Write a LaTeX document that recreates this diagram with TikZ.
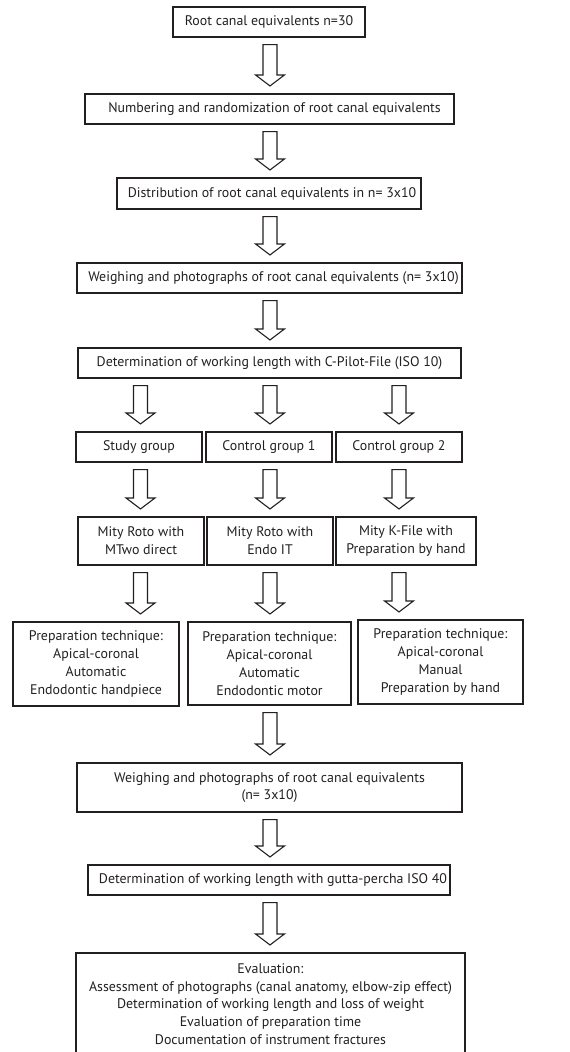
\documentclass[tikz,border=0pt]{standalone}
\usepackage{fontspec}
\setmainfont{PT Sans}
\usetikzlibrary{calc}
\definecolor{ink}{HTML}{231F20}
\tikzset{
  box/.style={draw=ink, line width=1.1pt, align=center, inner sep=0pt, text=ink,
    font=\fontsize{13.9}{17.8}\selectfont},
  blockarr/.style={draw=ink, line width=1.1pt, fill=white, line join=miter},
}
\newcommand\blkarrow[3]{%
  \draw[blockarr] let \p0=(#1), \p1=(#2.south), \p2=(#3.north) in
   (\x0-7pt,\y1-7pt) -- (\x0+7pt,\y1-7pt) -- (\x0+7pt,\y2+18.5pt)
   -- (\x0+14.5pt,\y2+18.5pt) -- (\x0,\y2+7.5pt) -- (\x0-14.5pt,\y2+18.5pt)
   -- (\x0-7pt,\y2+18.5pt) -- cycle;}
\begin{document}
\begin{tikzpicture}[x=1pt,y=-1pt]
\useasboundingbox (0,0) rectangle (570,1052);
\clip (0,0) rectangle (570,1052);
\coordinate (colL) at (140.5,0);
\coordinate (colM) at (270,0);
\coordinate (colR) at (399,0);

\node[box, minimum width=192pt, minimum height=30pt] (b1) at (269,22) {Root canal equivalents n=30};
\node[box, minimum width=369pt, minimum height=30pt] (b2) at (269.5,109) {\hspace*{10pt}Numbering and randomization of root canal equivalents};
\node[box, minimum width=304pt, minimum height=31pt] (b3) at (269,193.5) {\hspace*{6pt}Distribution of root canal equivalents in n= 3x10};
\node[box, minimum width=385pt, minimum height=30pt] (b4) at (269.5,278) {\hspace*{8pt}Weighing and photographs of root canal equivalents (n= 3x10)};
\node[box, minimum width=383pt, minimum height=30pt] (b5) at (269.5,363) {Determination of working length with C-Pilot-File (ISO 10)};

\node[box, minimum width=126pt, minimum height=30pt] (g1) at (139,447) {Study group};
\node[box, minimum width=126pt, minimum height=30pt] (g2) at (269,447) {Control group 1};
\node[box, minimum width=126pt, minimum height=30pt] (g3) at (399,447) {Control group 2};

\node[box, minimum width=126pt, minimum height=48pt] (m1) at (141,541) {Mity Roto with\\MTwo direct};
\node[box, minimum width=126pt, minimum height=48pt] (m2) at (270,541) {Mity Roto with\\Endo IT};
\node[box, minimum width=140pt, minimum height=48pt] (m3) at (406,541) {Mity K-File with\\Preparation by hand};

\node[box, minimum width=166pt, minimum height=84pt] (p1) at (96,664) {Preparation technique:\\Apical-coronal\\Automatic\\Endodontic handpiece};
\node[box, minimum width=163pt, minimum height=83pt] (p2) at (269.5,663.5) {Preparation technique:\\Apical-coronal\\Automatic\\Endodontic motor};
\node[box, minimum width=165pt, minimum height=84pt] (p3) at (440.5,662) {Preparation technique:\\Apical-coronal\\Manual\\Preparation by hand};

\node[box, minimum width=385pt, minimum height=49pt] (w2) at (269.5,787.5) {Weighing and photographs of root canal equivalents\\(n= 3x10)};
\node[box, minimum width=362pt, minimum height=30pt] (gp) at (269,880) {\hspace*{8pt}Determination of working length with gutta-percha ISO 40};
\node[box, minimum width=389pt, minimum height=102pt] (ev) at (270.5,1004) {Evaluation:\\Assessment of photographs (canal anatomy, elbow-zip effect)\\Determination of working length and loss of weight\\Evaluation of preparation time\\Documentation of instrument fractures};

\blkarrow{colM}{b1}{b2}
\blkarrow{colM}{b2}{b3}
\blkarrow{colM}{b3}{b4}
\blkarrow{colM}{b4}{b5}
\blkarrow{colL}{b5}{g1}
\blkarrow{colM}{b5}{g2}
\blkarrow{colR}{b5}{g3}
\blkarrow{colL}{g1}{m1}
\blkarrow{colM}{g2}{m2}
\blkarrow{colR}{g3}{m3}
\blkarrow{colL}{m1}{p1}
\blkarrow{colM}{m2}{p2}
\blkarrow{colR}{m3}{p3}
\blkarrow{colM}{p2}{w2}
\blkarrow{colM}{w2}{gp}
\blkarrow{colM}{gp}{ev}
\end{tikzpicture}
\end{document}
